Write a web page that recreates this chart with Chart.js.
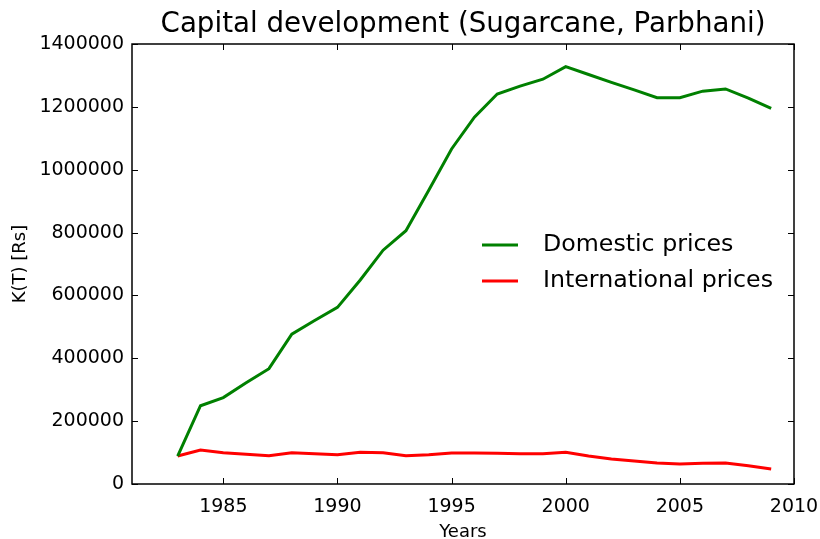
<!DOCTYPE html>
<html>
<head>
<meta charset="utf-8">
<script src="https://cdn.jsdelivr.net/npm/chart.js@4.4.1/dist/chart.umd.min.js"></script>
<style>
  html, body { margin: 0; padding: 0; background: #fff; }
</style>
</head>
<body>
<canvas id="capitalChart" width="820" height="539"></canvas>
<script>
const years = [1983, 1984, 1985, 1986, 1987, 1988, 1989, 1990, 1991, 1992, 1993, 1994, 1995, 1996,
  1997, 1998, 1999, 2000, 2001, 2002, 2003, 2004, 2005, 2006, 2007, 2008, 2009];
const domesticPrices = [89000, 249000, 275000, 322000, 367000, 477000, 520000, 562000, 649000, 744000,
  806000, 935000, 1066000, 1167000, 1241000, 1266000, 1288000, 1328000, 1303000, 1278000, 1254000,
  1229000, 1229000, 1250000, 1257000, 1228000, 1195000];
const internationalPrices = [89000, 108000, 99600, 94400, 90000, 99600, 96400, 93300, 100800, 99600,
  90000, 93300, 99000, 99000, 97600, 96000, 96000, 100800, 89000, 79500, 73200, 66800, 63600, 66000,
  67000, 58300, 47700];
const xTicks = [1985, 1990, 1995, 2000, 2005, 2010];
const yTicks = [0, 200000, 400000, 600000, 800000, 1000000, 1200000, 1400000];
const chartTitle = "Capital development (Sugarcane, Parbhani)";

const FONT = "'DejaVu Sans', sans-serif";

function toPoints(values) {
  return years.map((yr, i) => ({ x: yr, y: values[i] }));
}

// title over the plot box, box itself, inward ticks and the legend
const framePlugin = {
  id: "frame",
  afterDraw(chart) {
    const ctx = chart.ctx;
    const { left, right, top, bottom } = chart.chartArea;
    const xs = chart.scales.x;
    const ys = chart.scales.y;
    ctx.save();

    ctx.fillStyle = "#000";
    ctx.font = "27.7px " + FONT;
    ctx.textAlign = "center";
    ctx.textBaseline = "alphabetic";
    ctx.fillText(chartTitle, (left + right) / 2, 32);

    ctx.strokeStyle = "#000";
    ctx.lineWidth = 1.5;
    ctx.strokeRect(left, top, right - left, bottom - top);
    ctx.lineWidth = 1;
    ctx.beginPath();
    xTicks.forEach((v) => {
      const px = Math.round(xs.getPixelForValue(v)) + 0.5;
      ctx.moveTo(px, bottom);
      ctx.lineTo(px, bottom - 6);
      ctx.moveTo(px, top);
      ctx.lineTo(px, top + 6);
    });
    yTicks.forEach((v) => {
      const py = Math.round(ys.getPixelForValue(v)) + 0.5;
      ctx.moveTo(left, py);
      ctx.lineTo(left + 6, py);
      ctx.moveTo(right, py);
      ctx.lineTo(right - 6, py);
    });
    ctx.stroke();

    // legend
    ctx.font = "23.7px " + FONT;
    ctx.textAlign = "left";
    ctx.textBaseline = "middle";
    chart.data.datasets.forEach((ds, i) => {
      const y = 245 + i * 36;
      ctx.strokeStyle = ds.borderColor;
      ctx.lineWidth = 3;
      ctx.beginPath();
      ctx.moveTo(482, y);
      ctx.lineTo(518, y);
      ctx.stroke();
      ctx.fillText(ds.label, 543, y);
    });
    ctx.restore();
  },
};

new Chart(document.getElementById("capitalChart"), {
  type: "line",
  data: {
    datasets: [
      {
        label: "Domestic prices",
        data: toPoints(domesticPrices),
        borderColor: "#008000",
        borderWidth: 3,
        pointRadius: 0,
        tension: 0,
      },
      {
        label: "International prices",
        data: toPoints(internationalPrices),
        borderColor: "#ff0000",
        borderWidth: 3,
        pointRadius: 0,
        tension: 0,
      },
    ],
  },
  options: {
    responsive: false,
    animation: false,
    layout: { padding: { left: 0, right: 26, top: 44, bottom: 0 } },
    plugins: {
      legend: { display: false },
      tooltip: { enabled: false },
      title: { display: false },
    },
    scales: {
      x: {
        type: "linear",
        min: 1981,
        max: 2010,
        afterBuildTicks: (scale) => {
          scale.ticks = xTicks.map((v) => ({ value: v }));
        },
        afterFit: (scale) => {
          scale.height = 55;
          scale.paddingLeft = 0;
          scale.paddingRight = 0;
        },
        grid: { display: false, drawTicks: false },
        border: { display: false },
        ticks: {
          color: "#000",
          font: { family: FONT, size: 19 },
          padding: 12,
          maxRotation: 0,
          callback: (v) => String(v),
        },
        title: {
          display: true,
          text: "Years",
          color: "#000",
          font: { family: FONT, size: 18 },
          padding: { top: 0, bottom: -4 },
        },
      },
      y: {
        min: 0,
        max: 1400000,
        afterBuildTicks: (scale) => {
          scale.ticks = yTicks.map((v) => ({ value: v }));
        },
        afterFit: (scale) => {
          scale.width = 132;
          scale.paddingTop = 0;
          scale.paddingBottom = 0;
        },
        grid: { display: false, drawTicks: false },
        border: { display: false },
        ticks: {
          color: "#000",
          font: { family: FONT, size: 19 },
          padding: 8,
          callback: (v) => String(v),
        },
        title: {
          display: true,
          text: "K(T) [Rs]",
          color: "#000",
          font: { family: FONT, size: 18 },
          padding: { top: 10, bottom: 0 },
        },
      },
    },
  },
  plugins: [framePlugin],
});
</script>
</body>
</html>
